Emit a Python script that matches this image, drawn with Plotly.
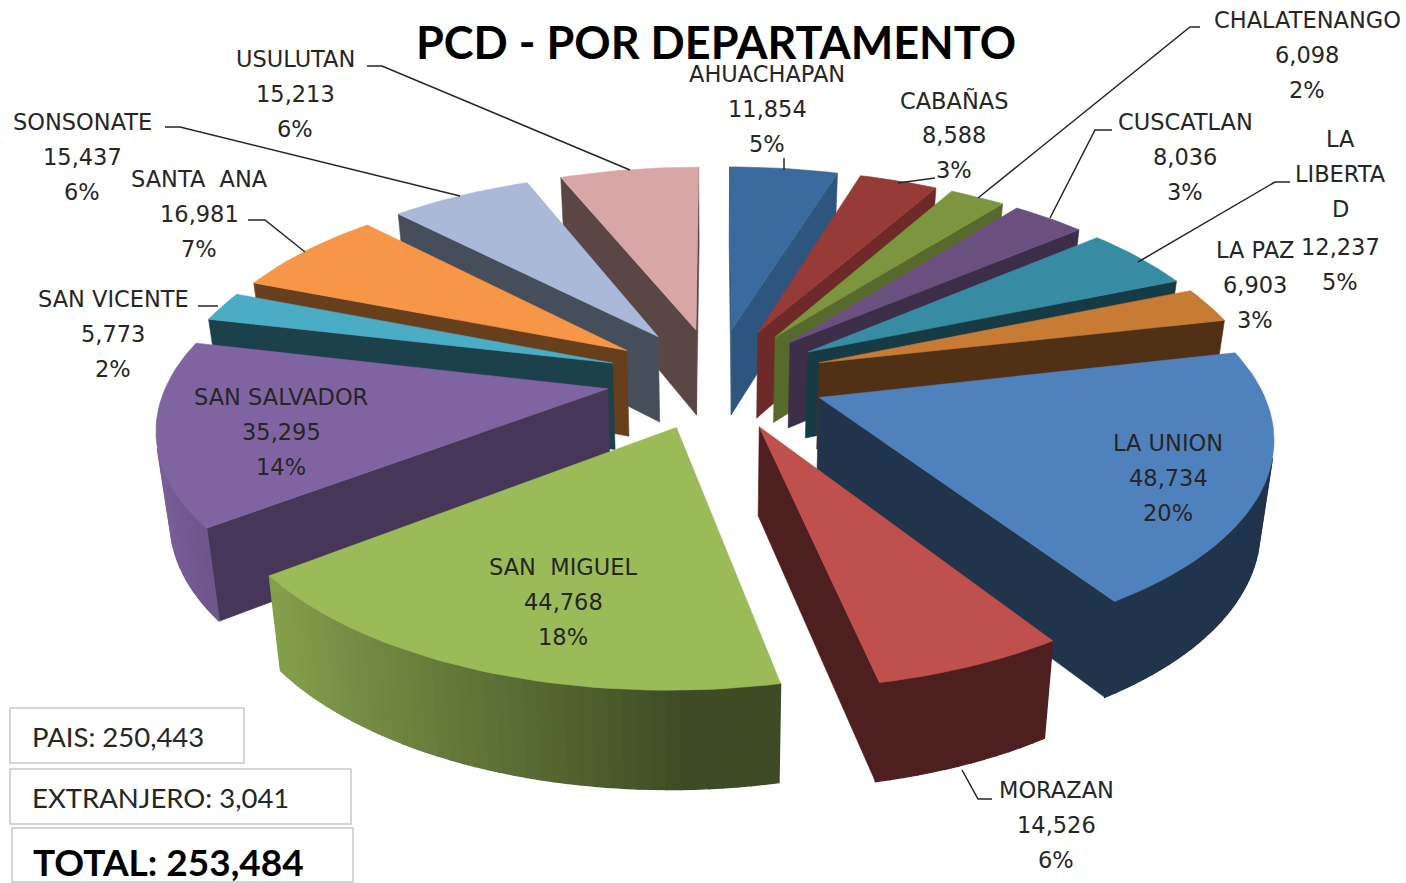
import math
import plotly.graph_objects as go

DEPARTMENTS = ["AHUACHAPAN", "CABAÑAS", "CHALATENANGO", "CUSCATLAN", "LA LIBERTAD", "LA PAZ", "LA UNION",
               "MORAZAN", "SAN MIGUEL", "SAN SALVADOR", "SAN VICENTE", "SANTA ANA", "SONSONATE", "USULUTAN"]
VALUES = [11854, 8588, 6098, 8036, 12237, 6903, 48734, 14526, 44768, 35295, 5773, 16981, 15437, 15213]
PERCENTS = ["5%", "3%", "2%", "3%", "5%", "3%", "20%", "6%", "18%", "14%", "2%", "7%", "6%", "6%"]
COLORS = ["#3A6A9E", "#973B38", "#7C963F", "#69507F", "#378CA4", "#C87B35", "#4F81BD",
          "#C0504D", "#9BBB59", "#8064A2", "#4BACC6", "#F79646", "#AAB9D8", "#D8A6A6"]
FACE_SHADE = [0.8, 0.72, 0.7, 0.57, 0.42, 0.4, 0.4, 0.4, 0.45, 0.55, 0.38, 0.42, 0.42, 0.42]
NAME_LINES = [["AHUACHAPAN"], ["CABAÑAS"], ["CHALATENANGO"], ["CUSCATLAN"], ["LA", "LIBERTA", "D"], ["LA PAZ"],
              ["LA UNION"], ["MORAZAN"], ["SAN  MIGUEL"], ["SAN SALVADOR"], ["SAN VICENTE"], ["SANTA  ANA"],
              ["SONSONATE"], ["USULUTAN"]]
LABEL_X = [767, 954, 1307, 1185, 1340, 1255, 1168, 1056, 563, 281, 113, 199, 82, 295]
LABEL_Y = [74, 100, 20, 122, 139, 250, 443, 790, 567, 397, 299, 179, 122, 59]
LEADERS = [
    ([784, 784], [158, 170]),
    ([935, 898], [178, 183]),
    ([1200, 1190, 978], [27, 27, 198]),
    ([1112, 1095, 1050], [130, 130, 218]),
    ([1290, 1275, 1138], [182, 182, 262]),
    ([992, 978, 962], [799, 799, 770]),
    ([198, 218], [306, 306]),
    ([248, 265, 305], [220, 220, 252]),
    ([165, 180, 460], [127, 127, 196]),
    ([367, 382, 630], [66, 66, 170]),
]

CX, CY, RX, RY, EXPLODE, PERSP, HEIGHT, BOTTOM_X = 716, 378, 439, 203, 0.25, 0.16, 87, 0.975
INK = "#262626"


def project(r, th, mid, bottom=False):
    X = r * math.sin(th) + EXPLODE * math.sin(mid)
    Y = r * math.cos(th) + EXPLODE * math.cos(mid)
    s = 1 / (1 + PERSP * Y)
    px = RX * X * s
    py = CY - RY * Y * s
    if bottom:
        return CX + px * BOTTOM_X, py + HEIGHT * s ** 0.6
    return CX + px, py


def shade(hex_color, f):
    rgb = [int(hex_color[i:i + 2], 16) for i in (1, 3, 5)]
    return "rgb(%d,%d,%d)" % tuple(min(255, round(c * f)) for c in rgb)


def area(pts):
    return sum(pts[i][0] * pts[(i + 1) % len(pts)][1] - pts[(i + 1) % len(pts)][0] * pts[i][1]
               for i in range(len(pts))) / 2


def poly(pts, color, name, width=0.6):
    xs = [p[0] for p in pts] + [pts[0][0]]
    ys = [p[1] for p in pts] + [pts[0][1]]
    return go.Scatter(x=xs, y=ys, mode="lines", fill="toself", fillcolor=color, name=name,
                      line=dict(color=color, width=width), hoverinfo="name", showlegend=False)


fig = go.Figure()
total = sum(VALUES)
wedges = []
acc = 0
for i, v in enumerate(VALUES):
    a0 = acc / total * 2 * math.pi
    acc += v
    a1 = acc / total * 2 * math.pi
    wedges.append((i, a0, a1, (a0 + a1) / 2))

for i, a0, a1, mid in sorted(wedges, key=lambda w: -math.cos(w[3])):
    color, name = COLORS[i], DEPARTMENTS[i]
    # radial faces
    for ang, sign in ((a0, 1), (a1, -1)):
        quad = [project(0, ang, mid), project(1, ang, mid),
                project(1, ang, mid, True), project(0, ang, mid, True)]
        if area(quad) * sign < 0:
            fig.add_trace(poly(quad, shade(color, FACE_SHADE[i]), name))
    # outer rim strips, shaded from light on the left to dark on the right
    n = max(2, int((a1 - a0) / math.radians(1.5)))
    for k in range(n):
        t0 = a0 + (a1 - a0) * k / n
        t1 = a0 + (a1 - a0) * (k + 1) / n
        quad = [project(1, t0, mid), project(1, t1, mid),
                project(1, t1, mid, True), project(1, t0, mid, True)]
        if area(quad) < 0:
            tm = (t0 + t1) / 2
            f = max(0.4, min(1.0, 0.42 - 0.55 * math.sin(tm)))
            fig.add_trace(poly(quad, shade(color, f), name, width=1.4))
    # top face
    m = max(4, int((a1 - a0) / math.radians(1.5)))
    top = [project(0, a0, mid)] + [project(1, a0 + (a1 - a0) * k / m, mid) for k in range(m + 1)]
    fig.add_trace(poly(top, color, name))

for xs, ys in LEADERS:
    fig.add_trace(go.Scatter(x=xs, y=ys, mode="lines", line=dict(color=INK, width=1.5),
                             hoverinfo="skip", showlegend=False))

FONT = "DejaVu Sans"
ann = []


def text(x, y, s, size=22.5, family=FONT, color=INK, anchor="center", bold=False):
    ann.append(dict(x=x, y=y, xref="x", yref="y", text="<b>%s</b>" % s if bold else s, showarrow=False,
                    xanchor=anchor, yanchor="middle", font=dict(size=size, family=family, color=color)))


STEP = 35
for i, lines in enumerate(NAME_LINES):
    y = LABEL_Y[i]
    for ln in lines:
        text(LABEL_X[i], y, ln.replace(" ", "\u00a0"))
        y += STEP
    vx = LABEL_X[i]
    if DEPARTMENTS[i] == "LA LIBERTAD":
        y = 247
    text(vx, y, f"{VALUES[i]:,}")
    text(vx, y + STEP, PERCENTS[i])

text(716, 42, "PCD - POR DEPARTAMENTO", size=45, family="Lato", color="#000000", bold=True)

boxes = [(10, 708, 244, 763), (10, 769, 351, 824), (12, 828, 353, 882)]
shapes = [dict(type="rect", x0=a, y0=b, x1=c, y1=d, xref="x", yref="y", fillcolor="white",
               line=dict(color="#C8C8C8", width=1.5)) for a, b, c, d in boxes]
text(30, 736, "PAIS: 250,443", size=27.5, family="Lato", anchor="left")
text(30, 797, "EXTRANJERO: 3,041", size=27.5, family="Lato", anchor="left")
text(31, 861, "TOTAL: 253,484", size=37, family="Lato", color="#000000", anchor="left", bold=True)

fig.update_layout(width=1406, height=883, margin=dict(l=0, r=0, t=0, b=0), paper_bgcolor="white",
                  plot_bgcolor="white", annotations=ann, shapes=shapes, showlegend=False,
                  xaxis=dict(range=[0, 1406], visible=False, fixedrange=True),
                  yaxis=dict(range=[883, 0], visible=False, fixedrange=True))
fig.write_html("out.html", post_script="document.body.style.margin='0';document.body.style.overflow='hidden';",
               config=dict(displayModeBar=False))
